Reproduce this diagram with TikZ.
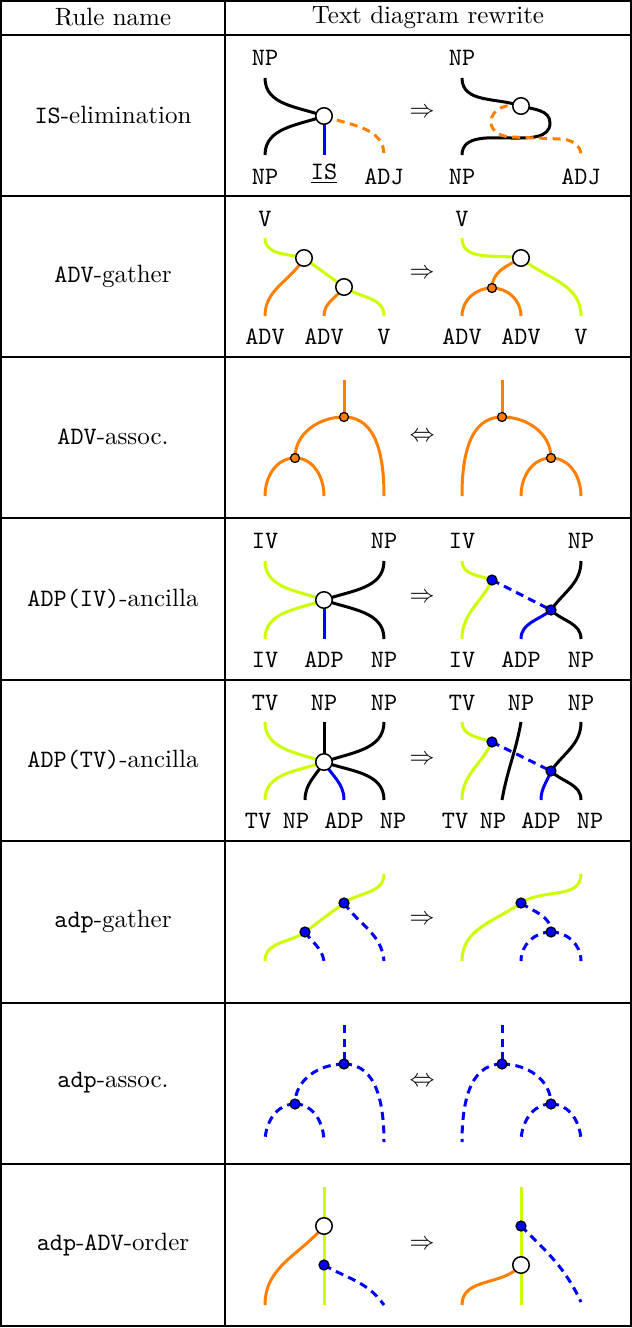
\documentclass[tikz,border=0pt]{standalone}
\definecolor{lime}{RGB}{204,255,0}
\definecolor{org}{RGB}{255,128,0}
\tikzset{
 w/.style={line width=1.2pt},
 bk/.style={w,black}, gr/.style={w,lime}, og/.style={w,org}, bl/.style={w,blue},
 dsh/.style={dash pattern=on 3.2pt off 2.2pt},
 wnode/.style={circle,draw,fill=white,line width=0.6pt,inner sep=0pt,minimum size=6.6pt},
 odot/.style={circle,draw,fill=org,line width=0.5pt,inner sep=0pt,minimum size=3.6pt},
 bdot/.style={circle,draw,fill=blue,line width=0.5pt,inner sep=0pt,minimum size=4pt},
 lab/.style={font=\ttfamily,inner sep=0pt},
 rl/.style={inner sep=0pt},
 tline/.style={line width=0.5pt}
}
\begin{document}
\begin{tikzpicture}[x=0.4pt,y=-0.4pt]
\useasboundingbox (0,0) rectangle (632,1328);
% table
\draw[tline] (1,1) rectangle (631,1326);
\draw[tline] (225,1) -- (225,1326);
\foreach \yy in {35,196,357,518,680,841,1003,1164} \draw[tline] (1,\yy) -- (631,\yy);
\node[rl] (h1) at (113,17) {Rule name};
\node[rl] (h2) at (428,17) {Text diagram rewrite};
\node[rl] (l1) at (113,115) {\texttt{IS}-elimination};
\node[rl] (l2) at (113,276) {\texttt{ADV}-gather};
\node[rl] (l3) at (113,437) {\texttt{ADV}-assoc.};
\node[rl] (l4) at (113,599) {\texttt{ADP(IV)}-ancilla};
\node[rl] (l5) at (113,760) {\texttt{ADP(TV)}-ancilla};
\node[rl] (l6) at (113,922) {\texttt{adp}-gather};
\node[rl] (l7) at (113,1083) {\texttt{adp}-assoc.};
\node[rl] (l8) at (113,1245) {\texttt{adp}-\texttt{ADV}-order};
\node[rl] (a1) at (422,113) {$\Rightarrow$};
\node[rl] (a2) at (422,274) {$\Rightarrow$};
\node[rl] (a3) at (422,437) {$\Leftrightarrow$};
\node[rl] (a4) at (422,598) {$\Rightarrow$};
\node[rl] (a5) at (422,760) {$\Rightarrow$};
\node[rl] (a6) at (422,920) {$\Rightarrow$};
\node[rl] (a7) at (422,1082) {$\Leftrightarrow$};
\node[rl] (a8) at (422,1245) {$\Rightarrow$};

% ---------- row 1
\node[lab] (t1a) at (265,58) {NP};
\node[lab] (b1a) at (265,177) {NP};
\node[lab] (b1b) at (324,174) {\underline{IS}};
\node[lab] (b1c) at (384,177) {ADJ};
\node[lab] (t1d) at (462,58) {NP};
\node[lab] (b1d) at (462,177) {NP};
\node[lab] (b1e) at (581,177) {ADJ};
\coordinate (n1) at (324,116);
\coordinate (n2) at (521,106);
\draw[bk] (265,78) to[out=-90,in=160] (n1);
\draw[bk] (265,155) to[out=90,in=200] (n1);
\draw[bl] (n1) -- (324,155);
\draw[og,dsh] (n1) to[out=-20,in=90] (384,155);
\draw[bk] (462,78) to[out=-90,in=160] (n2) to[out=-15,in=90] (550,123) to[out=-90,in=0] (512,138) to[out=180,in=90] (462,155);
\draw[og,dsh] (n2) to[out=-195,in=90] (491,122) to[out=-90,in=180] (512,137) -- (560,139) to[out=0,in=90] (581,155);
\node[wnode] (N1) at (n1) {};
\node[wnode] (N2) at (n2) {};

% ---------- row 2
\node[lab] (t2a) at (265,219) {V};
\node[lab] (b2a) at (265,337) {ADV};
\node[lab] (b2b) at (324,337) {ADV};
\node[lab] (b2c) at (384,337) {V};
\node[lab] (t2d) at (462,219) {V};
\node[lab] (b2d) at (462,337) {ADV};
\node[lab] (b2e) at (521,337) {ADV};
\node[lab] (b2f) at (581,337) {V};
\coordinate (p1) at (304,258);
\coordinate (p2) at (344,287);
\coordinate (q1) at (521,258);
\coordinate (q2) at (492,288);
\draw[gr] (265,238) to[out=-90,in=165] (p1) -- (p2) to[out=-35,in=90] (384,316);
\draw[og] (p1) to[out=-120,in=90] (265,316);
\draw[og] (p2) to[out=-125,in=90] (324,316);
\draw[gr] (462,238) to[out=-90,in=170] (q1) to[out=-40,in=90] (581,316);
\draw[og] (q1) to[out=-150,in=90] (q2);
\draw[og] (q2) to[out=180,in=90] (462,316);
\draw[og] (q2) to[out=0,in=90] (521,316);
\node[wnode] (P1) at (p1) {};
\node[wnode] (P2) at (p2) {};
\node[wnode] (Q1) at (q1) {};
\node[odot] (Q2) at (q2) {};

% ---------- row 3
\coordinate (c1) at (344,417); \coordinate (c2) at (295,458);
\coordinate (c3) at (502,417); \coordinate (c4) at (551,458);
\draw[og] (344,380) -- (c1);
\draw[og] (c1) to[out=180,in=90] (c2);
\draw[og] (c1) to[out=0,in=90] (384,496);
\draw[og] (c2) to[out=180,in=90] (265,496);
\draw[og] (c2) to[out=0,in=90] (324,496);
\draw[og] (502,380) -- (c3);
\draw[og] (c3) to[out=0,in=90] (c4);
\draw[og] (c3) to[out=180,in=90] (462,496);
\draw[og] (c4) to[out=180,in=90] (521,496);
\draw[og] (c4) to[out=0,in=90] (581,496);
\node[odot] (C1) at (c1) {}; \node[odot] (C2) at (c2) {};
\node[odot] (C3) at (c3) {}; \node[odot] (C4) at (c4) {};

% ---------- row 4
\node[lab] (t4a) at (265,541) {IV};
\node[lab] (t4b) at (384,541) {NP};
\node[lab] (b4a) at (265,660) {IV};
\node[lab] (b4b) at (324,660) {ADP};
\node[lab] (b4c) at (384,660) {NP};
\node[lab] (t4d) at (462,541) {IV};
\node[lab] (t4e) at (581,541) {NP};
\node[lab] (b4d) at (462,660) {IV};
\node[lab] (b4e) at (521,660) {ADP};
\node[lab] (b4f) at (581,660) {NP};
\coordinate (e1) at (324,600);
\coordinate (f1) at (492,580); \coordinate (f2) at (551,610);
\draw[gr] (265,561) to[out=-90,in=160] (e1);
\draw[gr] (265,639) to[out=90,in=200] (e1);
\draw[bk] (384,561) to[out=-90,in=20] (e1);
\draw[bk] (e1) to[out=-20,in=90] (384,639);
\draw[bl] (e1) -- (324,639);
\draw[gr] (462,561) to[out=-90,in=160] (f1);
\draw[gr] (f1) to[out=-115,in=90] (462,639);
\draw[bl,dsh] (f1) -- (f2);
\draw[bk] (581,561) to[out=-90,in=55] (f2);
\draw[bk] (f2) to[out=-45,in=90] (581,639);
\draw[bl] (f2) to[out=-140,in=90] (521,639);
\node[wnode] (E1) at (e1) {};
\node[bdot] (F1) at (f1) {}; \node[bdot] (F2) at (f2) {};

% ---------- row 5
\node[lab] (t5a) at (265,703) {TV};
\node[lab] (t5b) at (324,703) {NP};
\node[lab] (t5c) at (384,703) {NP};
\node[lab] (b5a) at (258,821) {TV};
\node[lab] (b5b) at (296,821) {NP};
\node[lab] (b5c) at (344,821) {ADP};
\node[lab] (b5d) at (393,821) {NP};
\node[lab] (t5d) at (462,703) {TV};
\node[lab] (t5e) at (521,703) {NP};
\node[lab] (t5f) at (581,703) {NP};
\node[lab] (b5e) at (455,821) {TV};
\node[lab] (b5f) at (493,821) {NP};
\node[lab] (b5g) at (541,821) {ADP};
\node[lab] (b5h) at (590,821) {NP};
\coordinate (g1) at (324,762);
\coordinate (k1) at (492,742); \coordinate (k2) at (551,771);
\draw[gr] (265,722) to[out=-90,in=160] (g1);
\draw[gr] (265,800) to[out=90,in=200] (g1);
\draw[bk] (324,722) -- (g1);
\draw[bk] (384,722) to[out=-90,in=20] (g1);
\draw[bk] (g1) to[out=-20,in=90] (384,800);
\draw[bk] (g1) to[out=-120,in=90] (305,800);
\draw[bl] (g1) to[out=-60,in=90] (344,800);
\draw[gr] (462,722) to[out=-90,in=160] (k1);
\draw[gr] (k1) to[out=-115,in=90] (462,800);
\draw[bk] (521,722) to[out=-100,in=80] (502,800);
\draw[bl,dsh] (k1) -- (k2);
\draw[bk] (581,722) to[out=-90,in=55] (k2);
\draw[bk] (k2) to[out=-45,in=90] (581,800);
\draw[bl] (k2) to[out=-110,in=90] (541,800);
\node[wnode] (G1) at (g1) {};
\node[bdot] (K1) at (k1) {}; \node[bdot] (K2) at (k2) {};

% ---------- row 6
\coordinate (m1) at (305,932); \coordinate (m2) at (344,903);
\coordinate (s1) at (521,903); \coordinate (s2) at (551,932);
\draw[gr] (265,961) to[out=90,in=215] (m1) -- (m2) to[out=35,in=-90] (384,874);
\draw[bl,dsh] (m1) to[out=-55,in=100] (324,961);
\draw[bl,dsh] (m2) to[out=-55,in=95] (384,961);
\draw[gr] (462,961) to[out=90,in=215] (s1) to[out=35,in=-90] (581,874);
\draw[bl,dsh] (s1) to[out=-35,in=90] (s2);
\draw[bl,dsh] (s2) to[out=180,in=90] (521,961);
\draw[bl,dsh] (s2) to[out=0,in=90] (581,961);
\node[bdot] (M1) at (m1) {}; \node[bdot] (M2) at (m2) {};
\node[bdot] (S1) at (s1) {}; \node[bdot] (S2) at (s2) {};

% ---------- row 7
\coordinate (u1) at (344,1064); \coordinate (u2) at (295,1104);
\coordinate (v1) at (502,1064); \coordinate (v2) at (551,1104);
\draw[bl,dsh] (344,1025) -- (u1);
\draw[bl,dsh] (u1) to[out=180,in=90] (u2);
\draw[bl,dsh] (u1) to[out=0,in=90] (384,1142);
\draw[bl,dsh] (u2) to[out=180,in=90] (265,1142);
\draw[bl,dsh] (u2) to[out=0,in=90] (324,1142);
\draw[bl,dsh] (502,1025) -- (v1);
\draw[bl,dsh] (v1) to[out=0,in=90] (v2);
\draw[bl,dsh] (v1) to[out=180,in=90] (462,1142);
\draw[bl,dsh] (v2) to[out=180,in=90] (521,1142);
\draw[bl,dsh] (v2) to[out=0,in=90] (581,1142);
\node[bdot] (U1) at (u1) {}; \node[bdot] (U2) at (u2) {};
\node[bdot] (V1) at (v1) {}; \node[bdot] (V2) at (v2) {};

% ---------- row 8
\coordinate (x1) at (324,1226); \coordinate (x2) at (324,1265);
\coordinate (z1) at (521,1226); \coordinate (z2) at (521,1265);
\draw[gr] (324,1187) -- (324,1305);
\draw[og] (x1) to[out=-130,in=90] (265,1305);
\draw[bl,dsh] (x2) to[out=-30,in=125] (384,1305);
\draw[gr] (521,1187) -- (521,1305);
\draw[bl,dsh] (z1) to[out=-45,in=115] (581,1302);
\draw[og] (z2) to[out=-130,in=90] (462,1305);
\node[wnode] (X1) at (x1) {}; \node[bdot] (X2) at (x2) {};
\node[bdot] (Z1) at (z1) {}; \node[wnode] (Z2) at (z2) {};
\end{tikzpicture}
\end{document}
